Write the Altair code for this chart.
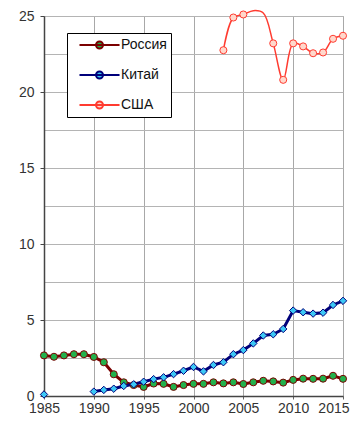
import altair as alt
import pandas as pd

series_names = ["Россия", "Китай", "США"]

years_ru = list(range(1985, 2016))
russia = [2.67, 2.58, 2.67, 2.75, 2.75, 2.57, 2.22, 1.43, 0.90, 0.72,
          0.60, 0.82, 0.80, 0.60, 0.72, 0.80, 0.80, 0.90, 0.83, 0.90,
          0.79, 0.90, 1.00, 0.96, 0.88, 1.06, 1.14, 1.13, 1.14, 1.33, 1.13]

years_cn = [1985] + list(range(1990, 2016))
china = [0.10,
         0.29, 0.40, 0.48, 0.66, 0.77, 0.94, 1.11, 1.23, 1.44, 1.66,
         1.91, 1.62, 2.04, 2.22, 2.75, 3.02, 3.46, 3.98, 4.06, 4.41,
         5.62, 5.51, 5.42, 5.48, 5.99, 6.26]
china_segment = [0] + [1] * 26

years_us = list(range(2003, 2016))
usa = [22.75, 24.9, 25.1, 25.35, 25.2, 23.2, 20.8, 23.2, 23.0, 22.55, 22.6, 23.5, 23.7]
usa_marker = [True, True, True, False, False, True, True, True, True, True, True, True, True]

line_colors = ["#7a0000", "#00007a", "#ff3b30"]
line_widths = [3, 3, 1.5]
line_interp = ["linear", "linear", "catmull-rom"]
marker_fills = ["#22b14c", "#3cc8f5", "#ffd8cc"]

x_ticks = [1985, 1990, 1995, 2000, 2005, 2010, 2015]
y_ticks = [0, 2.5, 5, 7.5, 10, 12.5, 15, 17.5, 20, 22.5, 25]

rows = []
for y, v in zip(years_ru, russia):
    rows.append({"year": y, "value": v, "series": "Россия", "seg": 0, "marker": True})
for y, v, s in zip(years_cn, china, china_segment):
    rows.append({"year": y, "value": v, "series": "Китай", "seg": s, "marker": True})
for y, v, m in zip(years_us, usa, usa_marker):
    rows.append({"year": y, "value": v, "series": "США", "seg": 0, "marker": m})
df = pd.DataFrame(rows)

FONT = "Liberation Sans"

x_enc = alt.X("year:Q", scale=alt.Scale(domain=[1985, 2015], nice=False, zero=False),
              axis=alt.Axis(values=x_ticks, format="d", title=None, grid=True,
                            gridColor="#a8a8a8", gridWidth=1, tickSize=3,
                            tickColor="#666666", labelPadding=2, labelFlush=False,
                            labelOverlap=False,
                            labelAlign={"condition": {"test": "datum.value === 2015", "value": "right"}, "value": "center"},
                            labelOffset={"condition": {"test": "datum.value === 2015", "value": 6}, "value": 0},
                            domainColor="#444444", domainWidth=1.5,
                            labelFont=FONT, labelFontSize=14, labelColor="#333333"))
y_enc = alt.Y("value:Q", scale=alt.Scale(domain=[0, 25], nice=False),
              axis=alt.Axis(values=y_ticks, title=None, grid=True,
                            gridColor="#b4b4b4", gridWidth=1, labelFlush=False,
                            labelOverlap=False,
                            labelExpr="datum.value % 5 === 0 ? datum.label : ''",
                            tickOpacity={"condition": {"test": "datum.value % 5 === 0", "value": 1}, "value": 0},
                            tickSize=4, tickColor="#444444", labelPadding=6,
                            domainColor="#444444", domainWidth=1.5,
                            labelFont=FONT, labelFontSize=14, labelColor="#333333"))

stroke_scale = alt.Scale(domain=series_names, range=line_colors)
fill_scale = alt.Scale(domain=series_names, range=marker_fills)

legend_path = "M0.07,0L5.79,0M2.43,0a0.5,0.5 0 1,0 1.0,0a0.5,0.5 0 1,0 -1.0,0"
legend = alt.Legend(orient="none", legendX=23, legendY=17, title=None,
                    symbolType=legend_path, symbolSize=196, symbolStrokeWidth=2,
                    labelOffset=34, padding=4, rowPadding=14,
                    strokeColor="#000000", fillColor="#ffffff",
                    labelFont=FONT, labelFontSize=14, labelColor="#111111")

layers = []
for name, col, w, interp in zip(series_names, line_colors, line_widths, line_interp):
    layers.append(
        alt.Chart(df).transform_filter(
            alt.datum.series == name
        ).mark_line(strokeWidth=w, interpolate=interp, color=col).encode(
            x=x_enc, y=y_enc, detail="seg:N", order="year:Q",
        )
    )

circles = alt.Chart(df).transform_filter(
    "datum.marker && datum.series !== 'Китай'"
).mark_point(filled=True, shape="circle", size=50, strokeWidth=1, opacity=1).encode(
    x=x_enc, y=y_enc,
    fill=alt.Fill("series:N", scale=fill_scale, legend=legend),
    stroke=alt.Stroke("series:N", scale=stroke_scale, legend=legend),
)
diamonds = alt.Chart(df).transform_filter(
    "datum.marker && datum.series === 'Китай'"
).mark_point(filled=True, shape="diamond", size=55, strokeWidth=1, opacity=1).encode(
    x=x_enc, y=y_enc,
    fill=alt.Fill("series:N", scale=fill_scale, legend=legend),
    stroke=alt.Stroke("series:N", scale=stroke_scale, legend=legend),
)

chart = alt.layer(*layers, circles, diamonds).properties(
    width=299, height=380,
    autosize=alt.AutoSizeParams(type="none"),
    padding={"left": 36, "top": 8, "right": 11, "bottom": 19},
).configure_view(stroke="#a8a8a8")

chart.save("out.html", embed_options={"renderer": "svg", "actions": False})
